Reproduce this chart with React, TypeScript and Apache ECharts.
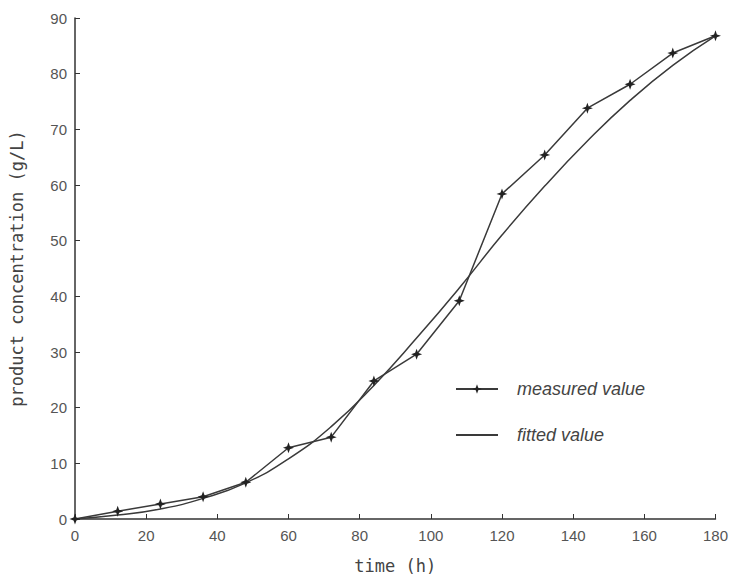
import React, { useEffect, useRef } from "react";
import * as echarts from "echarts";

const times = [0, 12, 24, 36, 48, 60, 72, 84, 96, 108, 120, 132, 144, 156, 168, 180];
const measured = [0, 1.4, 2.7, 4.0, 6.6, 12.8, 14.7, 24.8, 29.6, 39.2, 58.4, 65.4, 73.8, 78.1, 83.7, 86.8];
const fitted = [0, 0.7, 1.8, 3.7, 6.5, 10.8, 16.6, 24.0, 32.5, 41.5, 51.0, 59.8, 67.9, 75.2, 81.5, 86.8];

const STAR = "path://M0,-10 L2.6,-2.6 L10,0 L2.6,2.6 L0,10 L-2.6,2.6 L-10,0 L-2.6,-2.6 Z";

export default function App() {
  const ref = useRef<HTMLDivElement>(null);
  useEffect(() => {
    if (!ref.current) return;
    const chart = echarts.init(ref.current, null, { renderer: "svg" });
    const axisLabel = { color: "#555", fontSize: 15, fontFamily: "Liberation Sans, Arial, sans-serif" };
    chart.setOption({
      animation: false,
      backgroundColor: "#fff",
      grid: { left: 74, right: 15, top: 18, bottom: 64, containLabel: false },
      legend: {
        left: 450,
        top: 375,
        orient: "vertical",
        itemWidth: 42,
        itemHeight: 12,
        itemGap: 28,
        textStyle: {
          fontStyle: "italic",
          fontSize: 18,
          color: "#444",
          fontFamily: "Liberation Sans, Arial, sans-serif",
          padding: [0, 0, 0, 14],
        },
        data: [
          { name: "measured value" },
          { name: "fitted value" },
        ],
      },
      xAxis: {
        type: "value",
        min: 0,
        max: 180,
        interval: 20,
        name: "time (h)",
        nameLocation: "middle",
        nameGap: 38,
        nameTextStyle: { fontFamily: "DejaVu Sans Mono, monospace", fontSize: 17, color: "#444" },
        axisLine: { show: true, onZero: false, lineStyle: { color: "#333", width: 1.5 } },
        axisTick: { show: true, inside: true, length: 5, lineStyle: { color: "#333" } },
        axisLabel: { ...axisLabel, margin: 9 },
        splitLine: { show: false },
      },
      yAxis: {
        type: "value",
        min: 0,
        max: 90,
        interval: 10,
        name: "product concentration (g/L)",
        nameLocation: "middle",
        nameGap: 50,
        nameTextStyle: { fontFamily: "DejaVu Sans Mono, monospace", fontSize: 17, color: "#444" },
        axisLine: { show: true, onZero: false, lineStyle: { color: "#333", width: 1.5 } },
        axisTick: { show: true, inside: true, length: 5, lineStyle: { color: "#333" } },
        axisLabel: { ...axisLabel, margin: 8 },
        splitLine: { show: false },
      },
      series: [
        {
          name: "measured value",
          type: "line",
          data: times.map((t, i) => [t, measured[i]]),
          symbol: STAR,
          symbolSize: 11,
          showAllSymbol: true,
          lineStyle: { color: "#3a3a3a", width: 1.5 },
          itemStyle: { color: "#222" },
        },
        {
          name: "fitted value",
          type: "line",
          data: times.map((t, i) => [t, fitted[i]]),
          smooth: 0.5,
          symbol: "none",
          lineStyle: { color: "#3a3a3a", width: 1.5 },
          itemStyle: { color: "rgba(0,0,0,0)" },
        },
      ],
    });
    return () => chart.dispose();
  }, []);
  return <div ref={ref} style={{ width: 731, height: 583, position: "absolute", left: 0, top: 0 }} />;
}
